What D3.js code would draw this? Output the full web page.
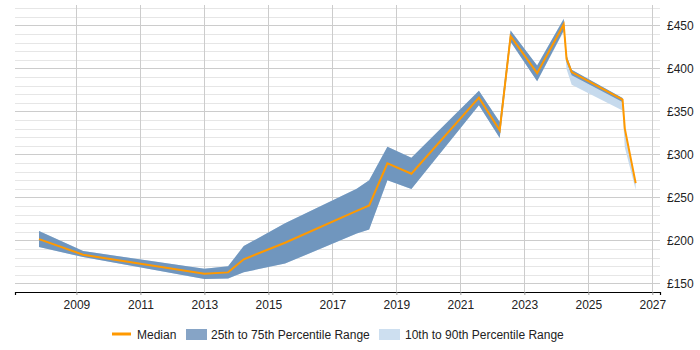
<!DOCTYPE html>
<html>
<head>
<meta charset="utf-8">
<script src="https://cdn.jsdelivr.net/npm/d3@7"></script>
<style>
  body { margin: 0; background: #fff; }
  text { font-family: "Liberation Sans", Arial, sans-serif; }
</style>
</head>
<body>
<div id="chart"></div>
<script>
// data (decimal years)
var years  = [2007.83, 2009.21, 2013.0, 2013.74, 2014.23, 2015.52, 2017.76, 2018.15, 2018.72, 2019.47, 2021.58, 2022.23, 2022.57, 2023.4, 2024.23, 2024.32, 2024.48, 2026.07, 2026.14, 2026.48];
var median = [201.5, 183.3, 161.3, 162.8, 178, 197.3, 234.3, 240.7, 289.5, 277.5, 366, 328, 437.5, 394.5, 451, 411, 395.7, 363.6, 330, 266.6];
var p25    = [192.2, 180.6, 155, 155.8, 163, 173, 208, 212.8, 269.8, 259.7, 357, 319, 431, 385, 444, 407, 392, 361, 329, 265.5];
var p75    = [210.8, 187.6, 167, 170, 193.4, 220, 260, 270, 309, 296, 374, 337.6, 444, 403.5, 457.5, 415, 398.4, 365.5, 331, 267.5];
var p10    = [192.2, 180.6, 155, 155.8, 163, 173, 208, 212.8, 269.8, 259.7, 357, 319, 431, 385, 443, 399, 381, 351, 308, 259];
var p90    = [210.8, 187.6, 167, 170, 193.4, 220, 260, 270, 309, 296, 374, 337.6, 444, 403.5, 458, 415, 398.4, 365.5, 331, 268];
var xTicks = [2009, 2011, 2013, 2015, 2017, 2019, 2021, 2023, 2025, 2027];
var yTicks = [150, 200, 250, 300, 350, 400, 450];
var legendLabels = ["Median", "25th to 75th Percentile Range", "10th to 90th Percentile Range"];

var svgWidth = 700, svgHeight = 350;
var margin = {top: 5, right: 40, bottom: 58, left: 15};
var width = svgWidth - margin.left - margin.right;
var height = svgHeight - margin.top - margin.bottom;

var svg = d3.select("#chart").append("svg")
    .attr("width", svgWidth)
    .attr("height", svgHeight);

var chartGroup = svg.append("g")
    .attr("transform", `translate(${margin.left}, ${margin.top})`);

var xScale = d3.scaleLinear().domain([2007.08, 2027.24]).range([0, width]);
var yScale = d3.scaleLinear().domain([140, 473.7]).range([height, 0]);

var rows = years.map(function(y, i) {
    return {x: y, m: median[i], lo: p25[i], hi: p75[i], lo2: p10[i], hi2: p90[i]};
});

// minor gridlines every 10
chartGroup.append("g").selectAll("line")
    .data(d3.range(150, 471, 10).filter(v => v % 50 != 0))
    .enter().append("line")
    .attr("x1", 0).attr("x2", width)
    .attr("y1", d => Math.round(yScale(d)) + 0.5)
    .attr("y2", d => Math.round(yScale(d)) + 0.5)
    .attr("stroke", "#e6e6e6");

// major gridlines
chartGroup.append("g").selectAll("line")
    .data(yTicks)
    .enter().append("line")
    .attr("x1", 0).attr("x2", width)
    .attr("y1", d => Math.round(yScale(d)) + 0.5)
    .attr("y2", d => Math.round(yScale(d)) + 0.5)
    .attr("stroke", "#cccccc");

// vertical gridlines
chartGroup.append("g").selectAll("line")
    .data(xTicks)
    .enter().append("line")
    .attr("x1", d => Math.round(xScale(d)) + 0.5)
    .attr("x2", d => Math.round(xScale(d)) + 0.5)
    .attr("y1", 0).attr("y2", height)
    .attr("stroke", "#cccccc");

// bands
var band90 = d3.area().x(d => xScale(d.x)).y0(d => yScale(d.lo2)).y1(d => yScale(d.hi2));
var band75 = d3.area().x(d => xScale(d.x)).y0(d => yScale(d.lo)).y1(d => yScale(d.hi));
var medLine = d3.line().x(d => xScale(d.x)).y(d => yScale(d.m));

chartGroup.append("path").datum(rows)
    .attr("d", band90)
    .attr("fill", "#c6daed");
chartGroup.append("path").datum(rows)
    .attr("d", band75)
    .attr("fill", "#7096be");
chartGroup.append("path").datum(rows)
    .attr("d", medLine)
    .attr("fill", "none")
    .attr("stroke", "#ff9900")
    .attr("stroke-width", 2);

// x axis
var bottomAxis = d3.axisBottom(xScale)
    .tickValues(xTicks)
    .tickFormat(d3.format("d"))
    .tickSize(3)
    .tickPadding(5);
var xAxisG = chartGroup.append("g")
    .attr("transform", `translate(0, ${height})`)
    .call(bottomAxis);
xAxisG.select(".domain").attr("stroke", "#000").attr("stroke-width", 1.2);
xAxisG.selectAll(".tick line").attr("stroke", "#999");
xAxisG.selectAll("text")
    .attr("font-size", "12px")
    .attr("fill", "#222")
    .attr("font-family", "Liberation Sans, Arial, sans-serif");

// y axis on the right, labels only
var rightAxis = d3.axisRight(yScale)
    .tickValues(yTicks)
    .tickFormat(d => "£" + d)
    .tickSize(0)
    .tickPadding(7);
var yAxisG = chartGroup.append("g")
    .attr("transform", `translate(${width}, 0)`)
    .call(rightAxis);
yAxisG.select(".domain").remove();
yAxisG.selectAll("text")
    .attr("font-size", "12px")
    .attr("fill", "#222")
    .attr("font-family", "Liberation Sans, Arial, sans-serif");

// legend
var legend = svg.append("g").attr("transform", "translate(0, 334)");
legend.append("line")
    .attr("x1", 112).attr("x2", 131)
    .attr("y1", 0).attr("y2", 0)
    .attr("stroke", "#ff9900").attr("stroke-width", 3);
legend.append("text").attr("x", 137).attr("y", 4.5)
    .attr("font-size", "12px").attr("fill", "#222")
    .text(legendLabels[0]);
legend.append("rect")
    .attr("x", 186).attr("y", -5).attr("width", 21).attr("height", 11)
    .attr("fill", "#86a4c6");
legend.append("text").attr("x", 211).attr("y", 4.5)
    .attr("font-size", "12px").attr("fill", "#222")
    .text(legendLabels[1]);
legend.append("rect")
    .attr("x", 379).attr("y", -5).attr("width", 21).attr("height", 11)
    .attr("fill", "#cddff0");
legend.append("text").attr("x", 405).attr("y", 4.5)
    .attr("font-size", "12px").attr("fill", "#222")
    .text(legendLabels[2]);
</script>
</body>
</html>
